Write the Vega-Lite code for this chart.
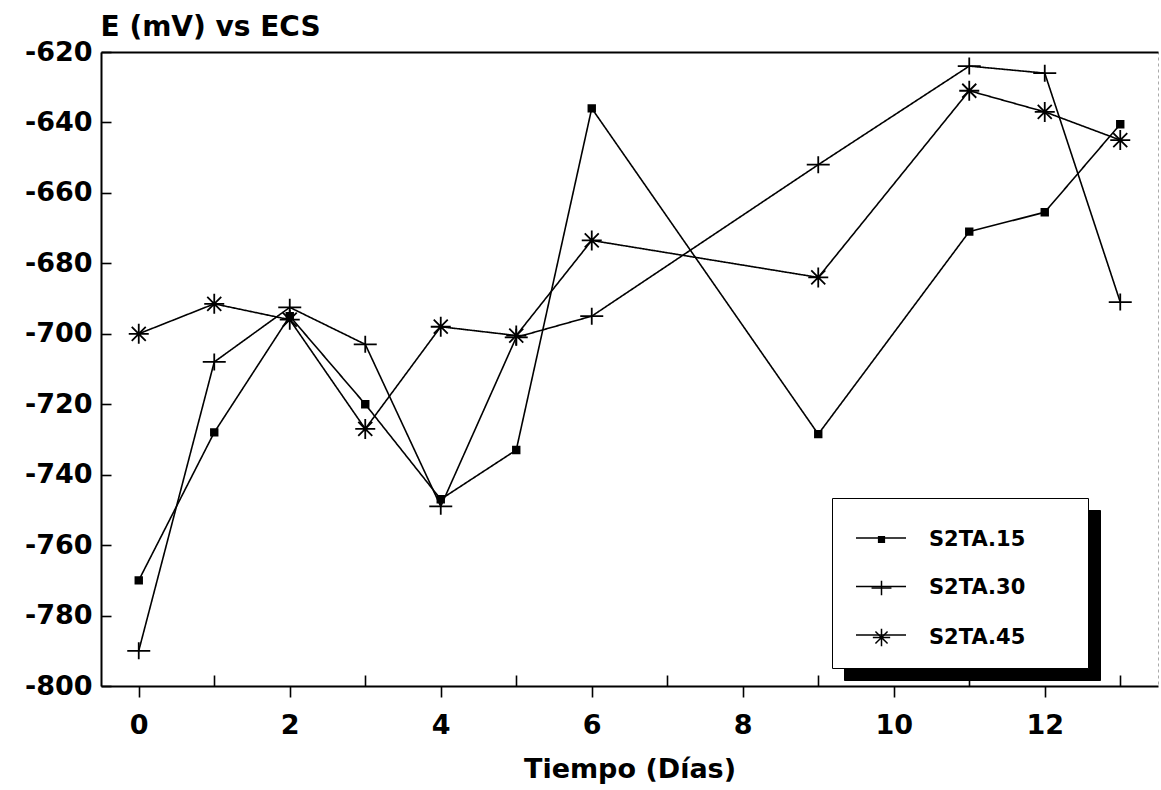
{
  "$schema": "https://vega.github.io/schema/vega-lite/v6.json",
  "autosize": {"type": "none"},
  "padding": {"left": 101, "top": 52, "right": 3, "bottom": 104},
  "width": 1057,
  "height": 634,
  "background": "white",
  "config": {
    "view": {"stroke": "#aaaaaa", "strokeDash": [3, 3], "strokeWidth": 1},
    "axis": {
      "labelFont": "DejaVu Sans", "labelFontWeight": "bold", "labelFontSize": 27, "labelColor": "black",
      "titleFont": "DejaVu Sans", "titleFontWeight": "bold", "titleFontSize": 27, "titleColor": "black",
      "domainColor": "black", "domainWidth": 2, "tickColor": "black", "tickWidth": 1.6, "grid": false
    },
    "legend": {
      "labelFont": "DejaVu Sans", "labelFontWeight": "bold", "labelFontSize": 21, "labelColor": "black"
    }
  },
  "data": {
    "values": [
      {"dia": 0, "E": -770, "serie": "S2TA.15"},
      {"dia": 1, "E": -728, "serie": "S2TA.15"},
      {"dia": 2, "E": -695, "serie": "S2TA.15"},
      {"dia": 3, "E": -720, "serie": "S2TA.15"},
      {"dia": 4, "E": -747, "serie": "S2TA.15"},
      {"dia": 5, "E": -733, "serie": "S2TA.15"},
      {"dia": 6, "E": -636, "serie": "S2TA.15"},
      {"dia": 9, "E": -728.5, "serie": "S2TA.15"},
      {"dia": 11, "E": -671, "serie": "S2TA.15"},
      {"dia": 12, "E": -665.5, "serie": "S2TA.15"},
      {"dia": 13, "E": -640.5, "serie": "S2TA.15"},
      {"dia": 0, "E": -790, "serie": "S2TA.30"},
      {"dia": 1, "E": -708, "serie": "S2TA.30"},
      {"dia": 2, "E": -692.5, "serie": "S2TA.30"},
      {"dia": 3, "E": -703, "serie": "S2TA.30"},
      {"dia": 4, "E": -749, "serie": "S2TA.30"},
      {"dia": 5, "E": -701, "serie": "S2TA.30"},
      {"dia": 6, "E": -695, "serie": "S2TA.30"},
      {"dia": 9, "E": -652, "serie": "S2TA.30"},
      {"dia": 11, "E": -624, "serie": "S2TA.30"},
      {"dia": 12, "E": -626, "serie": "S2TA.30"},
      {"dia": 13, "E": -691, "serie": "S2TA.30"},
      {"dia": 0, "E": -700, "serie": "S2TA.45"},
      {"dia": 1, "E": -691.5, "serie": "S2TA.45"},
      {"dia": 2, "E": -696, "serie": "S2TA.45"},
      {"dia": 3, "E": -727, "serie": "S2TA.45"},
      {"dia": 4, "E": -698, "serie": "S2TA.45"},
      {"dia": 5, "E": -700.5, "serie": "S2TA.45"},
      {"dia": 6, "E": -673.5, "serie": "S2TA.45"},
      {"dia": 9, "E": -684, "serie": "S2TA.45"},
      {"dia": 11, "E": -631, "serie": "S2TA.45"},
      {"dia": 12, "E": -637, "serie": "S2TA.45"},
      {"dia": 13, "E": -645, "serie": "S2TA.45"}
    ]
  },
  "transform": [
    {"calculate": "'x' + datum.serie", "as": "sombra"},
    {"calculate": "'L' + datum.serie", "as": "linea"}
  ],
  "layer": [
    {
      "mark": {"type": "line", "strokeWidth": 1.6},
      "encoding": {
        "x": {
          "field": "dia", "type": "quantitative",
          "scale": {"domain": [-0.5, 13.5], "nice": false, "zero": false},
          "axis": {
            "values": [0, 1, 2, 3, 4, 5, 6, 7, 8, 9, 10, 11, 12, 13],
            "labelExpr": "datum.value % 2 === 0 ? datum.label : ''",
            "tickSize": {"condition": {"test": "datum.value % 2 === 0", "value": 11}, "value": -11},
            "labelPadding": 15,
            "title": "Tiempo (Días)",
            "titleFontSize": 27,
            "titleBaseline": "alphabetic",
            "titleY": 91
          }
        },
        "y": {
          "field": "E", "type": "quantitative",
          "scale": {"domain": [-800, -620], "nice": false, "zero": false},
          "axis": {
            "values": [-800, -780, -760, -740, -720, -700, -680, -660, -640, -620],
            "labelExpr": "replace(datum.label, '\u2212', '-')",
            "tickSize": -10,
            "labelPadding": 19,
            "title": "E (mV) vs ECS",
            "titleFontSize": 28,
            "titleAngle": 0,
            "titleAlign": "left",
            "titleBaseline": "alphabetic",
            "titleX": -1,
            "titleY": -17
          }
        },
        "detail": {"field": "serie"},
        "color": {
          "field": "linea", "type": "nominal",
          "scale": {"range": ["black", "black", "black"]},
          "legend": {
            "title": null,
            "orient": "none",
            "legendX": 731,
            "legendY": 446,
            "zindex": 2,
            "padding": 26,
            "fillColor": "white",
            "strokeColor": "black",
            "symbolType": "M-2.5,0.3L2.5,0.3M17.7,0.3",
            "symbolSize": 400,
            "symbolOffset": 12,
            "symbolStrokeColor": "black",
            "symbolStrokeWidth": 1.6,
            "labelOffset": 4,
            "rowPadding": 27.5,
            "labelExpr": "''"
          }
        },
        "strokeDash": {
          "field": "sombra", "type": "nominal",
          "scale": {"range": [[1, 0], [1, 0], [1, 0]]},
          "legend": {
            "title": null,
            "orient": "none",
            "legendX": 743,
            "legendY": 458,
            "zindex": 1,
            "padding": 26,
            "fillColor": "black",
            "strokeColor": "black",
            "symbolType": "M-2.5,0.3L2.5,0.3M17.7,0.3",
            "symbolSize": 400,
            "symbolOffset": 12,
            "symbolStrokeColor": "black",
            "symbolStrokeWidth": 1.6,
            "labelOffset": 4,
            "rowPadding": 27.5,
            "labelExpr": "''"
          }
        }
      }
    },
    {
      "mark": {"type": "point", "filled": true, "color": "black", "stroke": "black", "strokeWidth": 1.8, "size": 400, "opacity": 1},
      "encoding": {
        "x": {
          "field": "dia", "type": "quantitative",
          "scale": {"domain": [-0.5, 13.5], "nice": false, "zero": false},
          "axis": {"orient": "top", "labels": false, "ticks": false, "title": null, "domain": true}
        },
        "y": {"field": "E", "type": "quantitative"},
        "shape": {
          "field": "serie", "type": "nominal",
          "scale": {
            "domain": ["S2TA.15", "S2TA.30", "S2TA.45"],
            "range": [
              "M-0.33,-0.33L0.33,-0.33L0.33,0.33L-0.33,0.33Z",
              "M-1.15,0L1.15,0M0,-0.85L0,0.85",
              "M-1,0L1,0M0,-1L0,1M-0.7,-0.7L0.7,0.7M-0.7,0.7L0.7,-0.7"
            ]
          },
          "legend": {
            "title": null,
            "orient": "none",
            "legendX": 760,
            "legendY": 467,
            "zindex": 3,
            "padding": 10,
            "fillColor": "transparent",
            "strokeColor": "transparent",
            "symbolSize": 300,
            "symbolOffset": 0,
            "labelOffset": 37,
            "rowPadding": 26.5,
            "encode": {
              "symbols": {
                "fill": {"value": "black"},
                "stroke": {"value": "black"},
                "strokeWidth": {"value": 1.6},
                "opacity": {"value": 1}
              }
            }
          }
        }
      }
    }
  ],
  "resolve": {"scale": {"x": "independent"}}
}
